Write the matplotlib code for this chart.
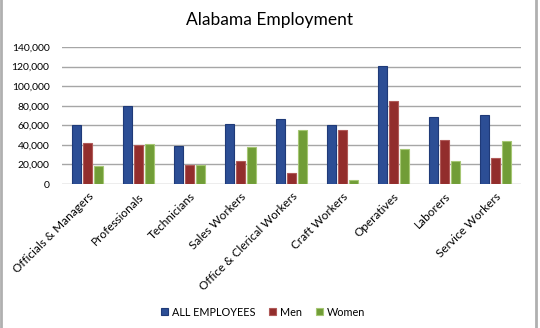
import numpy as np
from matplotlib import pyplot as plt
from matplotlib.lines import Line2D

plt.rcParams['font.family'] = ['Lato', 'DejaVu Sans']

categories = [
    "Officials & Managers",
    "Professionals",
    "Technicians",
    "Sales Workers",
    "Office & Clerical Workers",
    "Craft Workers",
    "Operatives",
    "Laborers",
    "Service Workers",
]
all_employees = [60000, 80000, 39000, 61000, 66000, 60500, 120500, 68000, 71000]
men = [41500, 39500, 19500, 23000, 11000, 55500, 84500, 44500, 27000]
women = [18000, 41000, 19500, 38000, 55000, 4500, 36000, 23500, 43500]
y_ticks = [0, 20000, 40000, 60000, 80000, 100000, 120000, 140000]

series = [
    ("ALL EMPLOYEES", all_employees, "#2c4e95", "#1f3a78"),
    ("Men", men, "#922d2c", "#b05a58"),
    ("Women", women, "#719d37", "#a6c774"),
]

fig = plt.figure(figsize=(5.4, 3.28), dpi=100)
ax = fig.add_axes([62 / 540, 1 - 184 / 328, (521 - 62) / 540, (184 - 47) / 328])

x = np.arange(len(categories))
step = 0.222
width = 0.17
for i, (name, vals, fc, ec) in enumerate(series):
    ax.bar(x + (i - 1) * step, vals, width=width, color=fc, edgecolor=ec,
           linewidth=0.8, label=name, zorder=3)

ax.set_xlim(-0.5, len(categories) - 0.5)
ax.set_ylim(0, 140000)
ax.set_yticks(y_ticks)
ax.set_yticklabels([f"{v:,}" for v in y_ticks], fontsize=7.5)
ax.set_xticks(x)
ax.set_xticklabels(categories, rotation=45, ha="right", rotation_mode="anchor", fontsize=8.5)
ax.tick_params(length=0)
ax.tick_params(axis="y", pad=9)
ax.tick_params(axis="x", pad=5)

for s in ax.spines.values():
    s.set_visible(False)
ax.grid(axis="y", color="#a6a6a6", linewidth=1.0, zorder=0)
ax.set_axisbelow(True)

fig.text(0.5, 1 - 20 / 328, "Alabama Employment", ha="center", va="center", fontsize=12.5)

ax.legend(loc="center", bbox_to_anchor=(0.487, 1 - 312 / 328), bbox_transform=fig.transFigure,
          ncol=3, frameon=False, fontsize=7.8, handlelength=0.65, handleheight=0.65,
          handletextpad=0.35, columnspacing=1.3)

# gray frame edges on left and right
fig.add_artist(Line2D([1 / 540, 1 / 540], [0, 1], color="#b0b0b0", linewidth=2.0,
                      transform=fig.transFigure))
fig.add_artist(Line2D([536 / 540, 536 / 540], [0, 1], color="#b0b0b0", linewidth=2.0,
                      transform=fig.transFigure))

fig.savefig("out.png", dpi=100)
